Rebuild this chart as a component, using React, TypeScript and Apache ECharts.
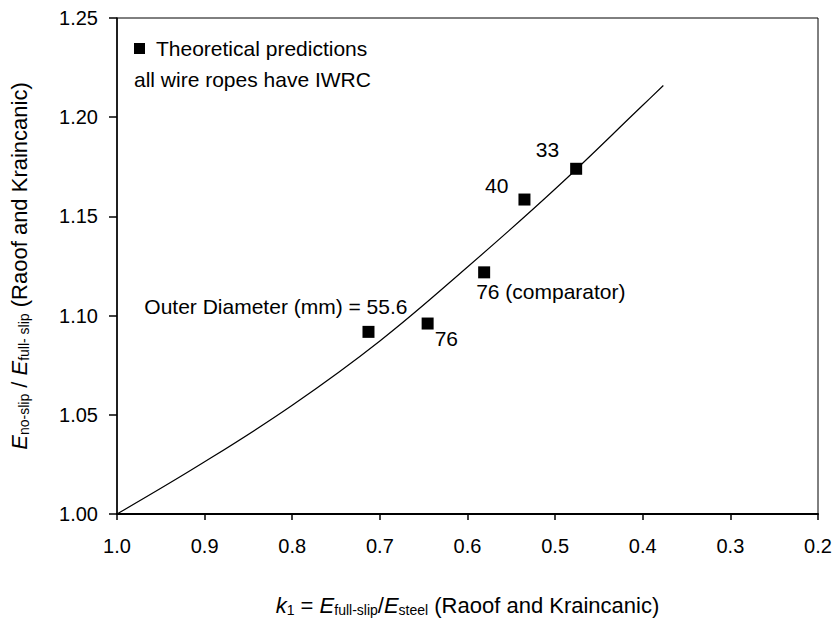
import React, { useEffect, useRef } from "react";
import * as echarts from "echarts";

const curveK = [1.0, 0.9, 0.8, 0.7, 0.6, 0.5, 0.4, 0.3765];
const curveE = [1.0, 1.0263, 1.0548, 1.0872, 1.1245, 1.1638, 1.206, 1.216];

const pointK = [0.713, 0.6455, 0.581, 0.535, 0.476];
const pointE = [1.0918, 1.096, 1.1218, 1.1585, 1.174];
const pointLabels = ["Outer Diameter (mm) = 55.6", "76", "76 (comparator)", "40", "33"];

const xTicks = { min: 0.2, max: 1.0, interval: 0.1 };
const yTicks = { min: 1.0, max: 1.25, interval: 0.05 };

const FONT = "'Liberation Sans', Arial, Helvetica, sans-serif";

export default function App() {
  const ref = useRef<HTMLDivElement>(null);
  useEffect(() => {
    if (!ref.current) return;
    const chart = echarts.init(ref.current, null, { renderer: "svg" });
    const labelCfg = [
      { align: "right", offset: [39, -25] },
      { align: "left", offset: [7, 15] },
      { align: "left", offset: [-8, 19] },
      { align: "right", offset: [-16, -14] },
      { align: "right", offset: [-17, -19] },
    ];
    const scatterData = pointK.map((k, i) => ({
      value: [k, pointE[i]],
      label: {
        show: true,
        formatter: pointLabels[i],
        position: "inside",
        align: labelCfg[i].align,
        verticalAlign: "middle",
        offset: labelCfg[i].offset,
        color: "#000",
        fontSize: 21,
        fontFamily: FONT,
      },
    }));
    const sub = { fontSize: 14, fontFamily: FONT, color: "#000", padding: [10, 0, 0, 0] };
    const it = { fontSize: 22, fontFamily: FONT, color: "#000", fontStyle: "italic" };
    const nm = { fontSize: 22, fontFamily: FONT, color: "#000" };
    chart.setOption({
      animation: false,
      backgroundColor: "#fff",
      textStyle: { fontFamily: FONT },
      grid: {
        left: 113,
        right: 20,
        top: 18,
        bottom: 105,
        show: true,
        borderColor: "#000",
        borderWidth: 1,
        backgroundColor: "transparent",
      },
      legend: {
        data: ["Theoretical predictions"],
        left: 134,
        top: 38,
        padding: 0,
        icon: "rect",
        itemWidth: 11,
        itemHeight: 11,
        textStyle: { fontSize: 21, color: "#000", fontFamily: FONT, padding: [0, 0, 0, 6] },
      },
      graphic: [
        {
          type: "text",
          left: 134,
          top: 69,
          style: { text: "all wire ropes have IWRC", fontSize: 21, fontFamily: FONT, fill: "#000" },
        },
      ],
      xAxis: {
        type: "value",
        inverse: true,
        min: xTicks.min,
        max: xTicks.max,
        interval: xTicks.interval,
        axisLine: { show: true, onZero: false, lineStyle: { color: "#000", width: 2 } },
        axisTick: { show: true, inside: false, length: 6, lineStyle: { color: "#000", width: 1.5 } },
        splitLine: { show: false },
        axisLabel: {
          fontSize: 20,
          color: "#000",
          fontFamily: FONT,
          margin: 22,
          formatter: (v: number) => v.toFixed(1),
        },
        name: "{i|k}{sub|1} = {i|E}{sub|full-slip}/{i|E}{sub|steel} {n|(Raoof and Kraincanic)}",
        nameLocation: "middle",
        nameGap: 79,
        nameTextStyle: { rich: { i: it, sub, n: nm }, fontSize: 22, color: "#000" },
      },
      yAxis: {
        type: "value",
        min: yTicks.min,
        max: yTicks.max,
        interval: yTicks.interval,
        axisLine: { show: true, onZero: false, lineStyle: { color: "#000", width: 1.5 } },
        axisTick: { show: true, inside: false, length: 8, lineStyle: { color: "#000", width: 1.5 } },
        splitLine: { show: false },
        axisLabel: {
          fontSize: 20,
          color: "#000",
          fontFamily: FONT,
          margin: 19,
          formatter: (v: number) => v.toFixed(2),
        },
        name: "{i|E}{sub|no-slip} / {i|E}{sub|full- slip} {n|(Raoof and Kraincanic)}",
        nameLocation: "middle",
        nameRotate: 90,
        nameGap: 86,
        nameTextStyle: { rich: { i: it, sub, n: nm }, fontSize: 22, color: "#000" },
      },
      series: [
        {
          name: "curve",
          type: "line",
          data: curveK.map((k, i) => [k, curveE[i]]),
          smooth: 0.4,
          showSymbol: false,
          symbol: "none",
          lineStyle: { color: "#000", width: 1.2 },
          silent: true,
          z: 2,
        },
        {
          name: "Theoretical predictions",
          type: "scatter",
          symbol: "rect",
          symbolSize: 12,
          itemStyle: { color: "#000", opacity: 1 },
          data: scatterData,
          z: 3,
        },
      ],
    });
    return () => chart.dispose();
  }, []);
  return (
    <div
      ref={ref}
      style={{ position: "fixed", left: 0, top: 0, width: 838, height: 622, background: "#fff" }}
    />
  );
}
